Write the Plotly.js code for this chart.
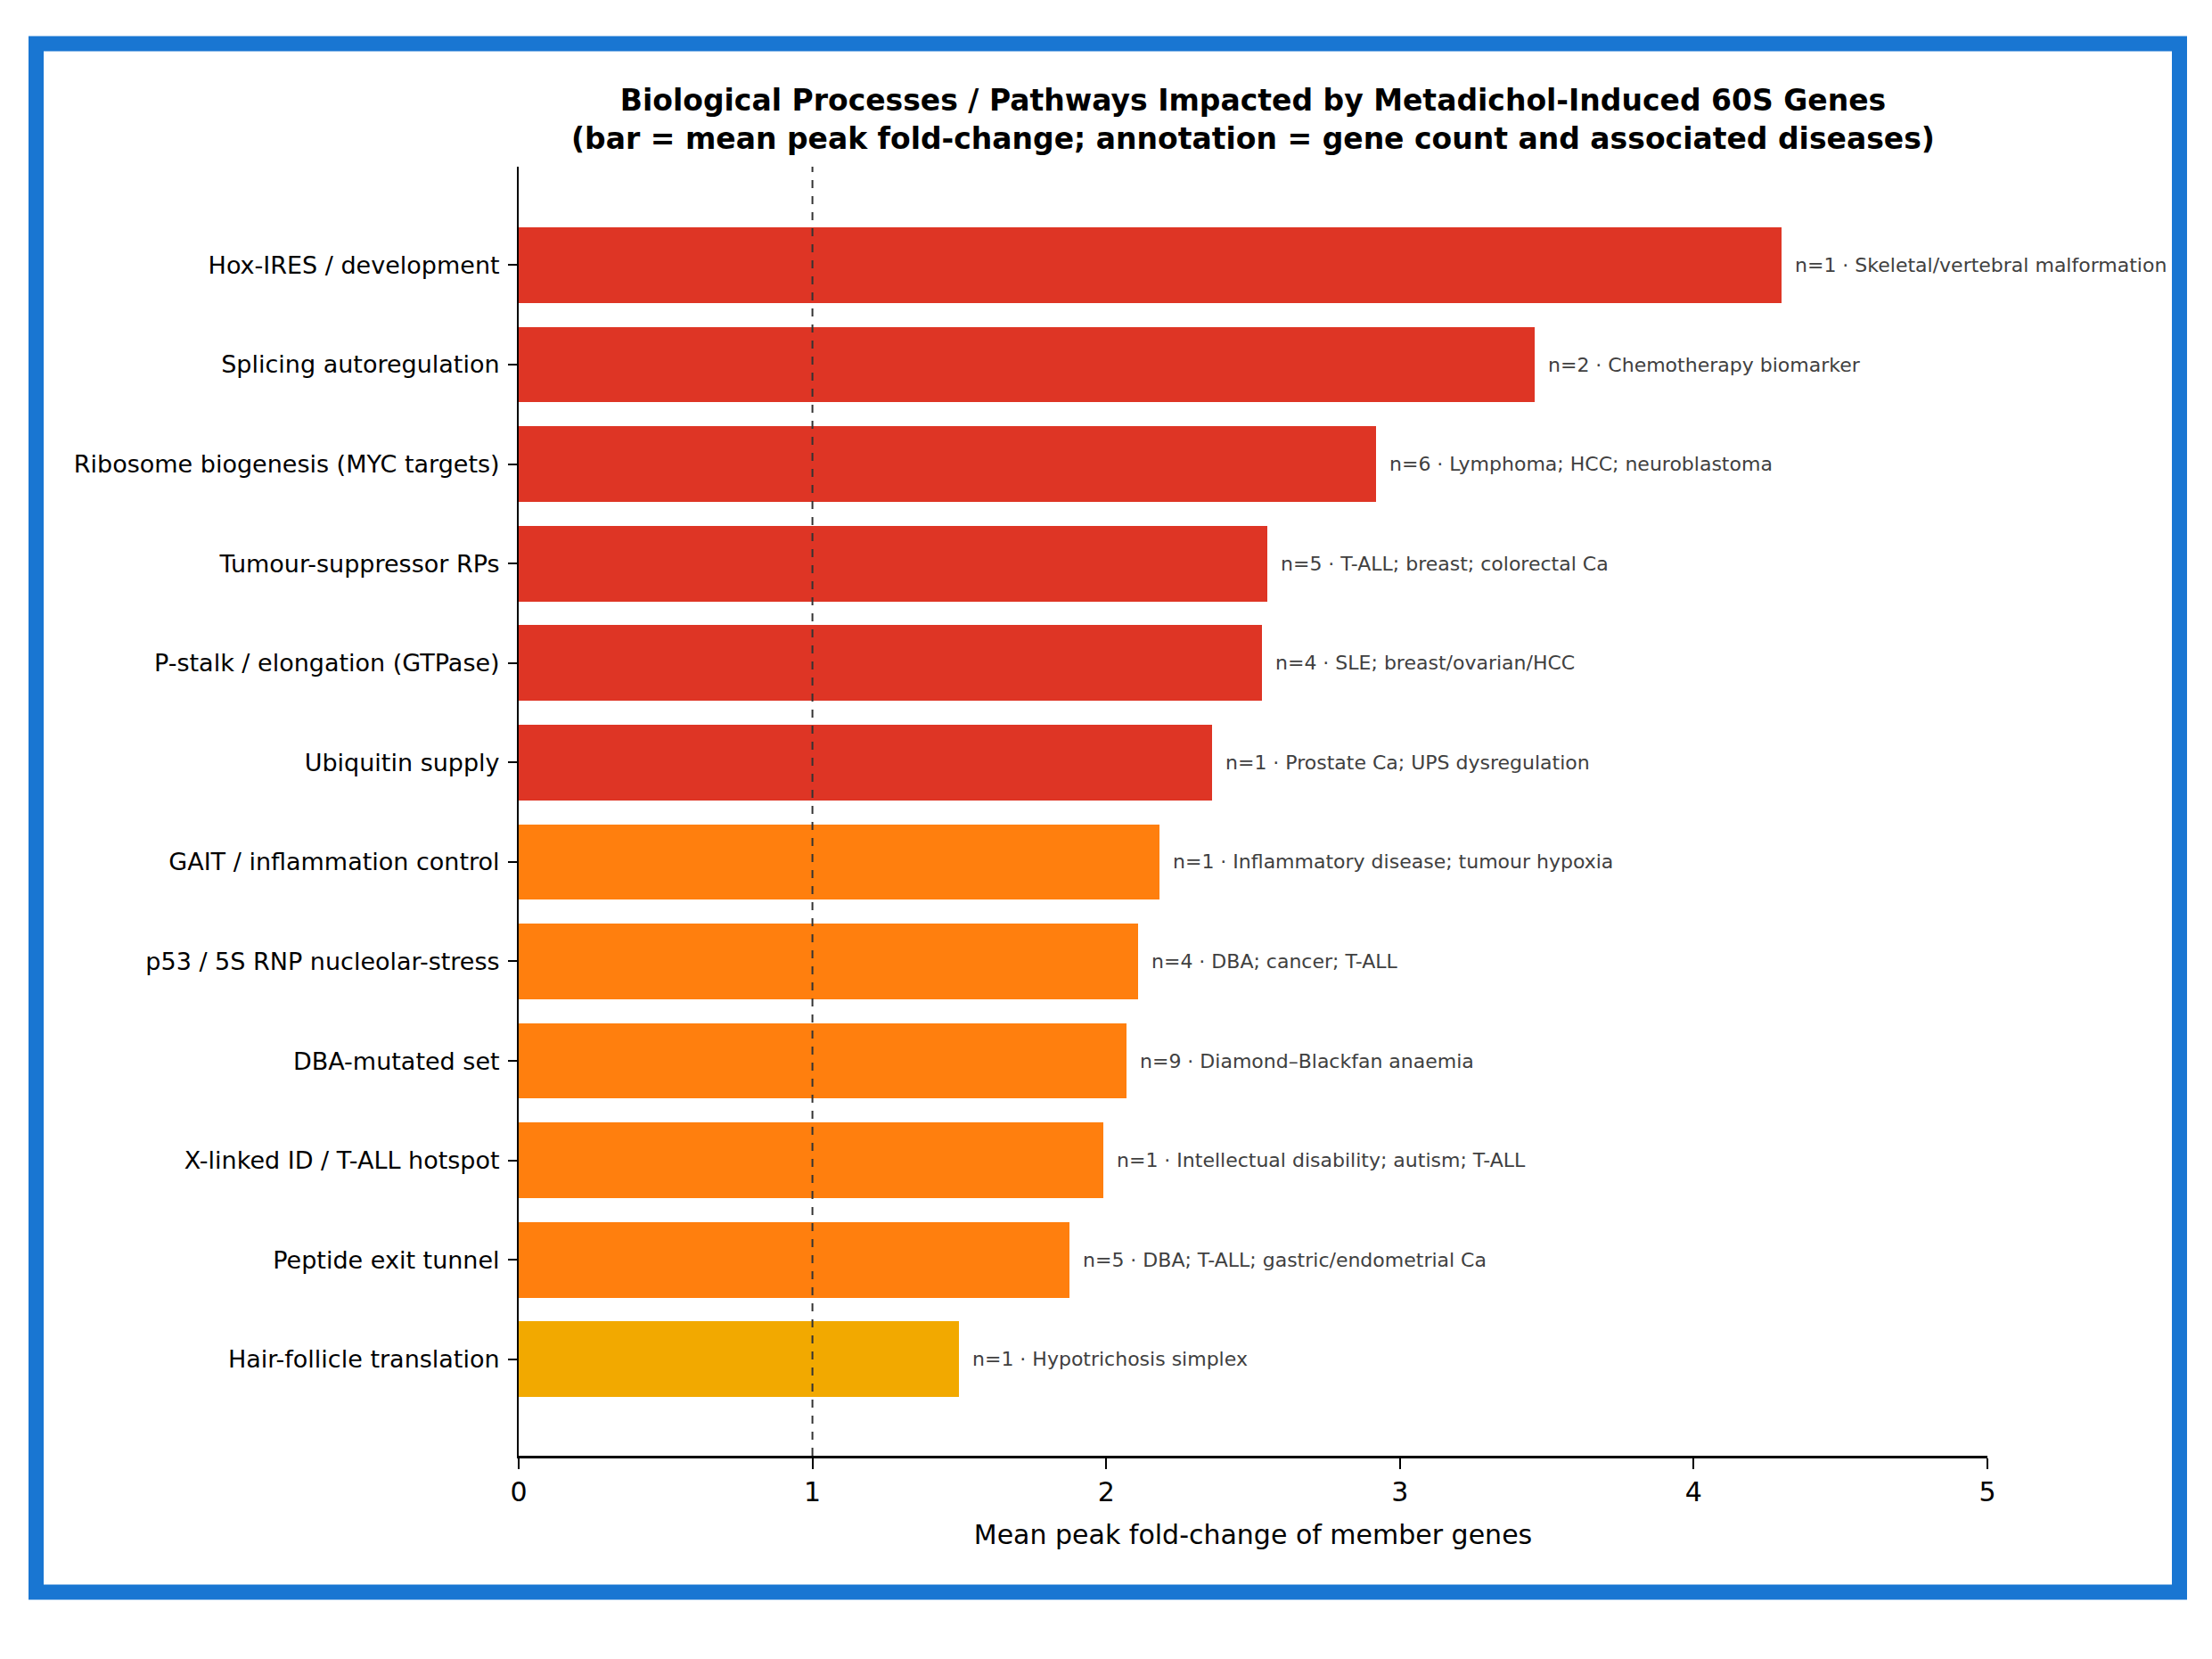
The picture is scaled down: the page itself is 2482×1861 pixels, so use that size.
<!DOCTYPE html>
<html>
<head>
<meta charset="utf-8">
<script src="https://cdn.plot.ly/plotly-3.0.1.min.js"></script>
<style>
  html, body { margin: 0; padding: 0; background: #ffffff; }
  #chart { width: 2482px; height: 1861px; }
</style>
</head>
<body>
<div id="chart"></div>
<script>
// ---- data ----
const categories = [
  "Hox-IRES / development",
  "Splicing autoregulation",
  "Ribosome biogenesis (MYC targets)",
  "Tumour-suppressor RPs",
  "P-stalk / elongation (GTPase)",
  "Ubiquitin supply",
  "GAIT / inflammation control",
  "p53 / 5S RNP nucleolar-stress",
  "DBA-mutated set",
  "X-linked ID / T-ALL hotspot",
  "Peptide exit tunnel",
  "Hair-follicle translation"
];
const meanFoldChange = [4.30, 3.46, 2.92, 2.55, 2.53, 2.36, 2.18, 2.11, 2.07, 1.99, 1.875, 1.50];
const geneCount = [1, 2, 6, 5, 4, 1, 1, 4, 9, 1, 5, 1];
const diseases = [
  "Skeletal/vertebral malformation",
  "Chemotherapy biomarker",
  "Lymphoma; HCC; neuroblastoma",
  "T-ALL; breast; colorectal Ca",
  "SLE; breast/ovarian/HCC",
  "Prostate Ca; UPS dysregulation",
  "Inflammatory disease; tumour hypoxia",
  "DBA; cancer; T-ALL",
  "Diamond\u2013Blackfan anaemia",
  "Intellectual disability; autism; T-ALL",
  "DBA; T-ALL; gastric/endometrial Ca",
  "Hypotrichosis simplex"
];
const xTickValues = [0, 1, 2, 3, 4, 5];
const referenceLine = 1;

// ---- styles ----
const RED = "#de3525", ORANGE = "#ff7f0e", AMBER = "#f2a900";
const barColors = [RED, RED, RED, RED, RED, RED, ORANGE, ORANGE, ORANGE, ORANGE, ORANGE, AMBER];
const FONT = "DejaVu Sans, Liberation Sans, sans-serif";

const trace = {
  type: "bar",
  orientation: "h",
  y: categories,
  x: meanFoldChange,
  width: 0.76,
  marker: { color: barColors, line: { width: 0 } },
  hoverinfo: "skip"
};

const annotations = categories.map((c, i) => ({
  x: meanFoldChange[i], y: c, xref: "x", yref: "y",
  text: "n=" + geneCount[i] + " \u00b7 " + diseases[i],
  showarrow: false, xanchor: "left", yanchor: "middle", xshift: 13,
  font: { family: FONT, size: 22, color: "#404040" }
}));

// frame in paper coords (plot area: x 582..2230, y 187..1633)
const PX = (p) => (p - 582) / 1648;
const PY = (p) => (1633 - p) / 1446;

const layout = {
  width: 2482, height: 1861,
  paper_bgcolor: "#ffffff", plot_bgcolor: "#ffffff",
  margin: { l: 582, r: 252, t: 187, b: 228, pad: 0 },
  font: { family: FONT, color: "#000000" },
  showlegend: false,
  bargap: 0,
  title: {
    text: "<b>Biological Processes / Pathways Impacted by Metadichol-Induced 60S Genes<br>(bar = mean peak fold-change; annotation = gene count and associated diseases)</b>",
    font: { family: FONT, size: 33, color: "#000000" },
    x: 0.5, xref: "paper", xanchor: "center",
    y: 1 - 124 / 1861, yref: "container", yanchor: "middle"
  },
  xaxis: {
    range: [0, 5],
    tickvals: xTickValues,
    ticktext: xTickValues.map(String),
    showgrid: false, zeroline: false,
    showline: true, linecolor: "#000000", linewidth: 2.5,
    ticks: "outside", ticklen: 12, tickwidth: 2, tickcolor: "#000000",
    tickfont: { family: FONT, size: 30, color: "#000000" },
    title: { text: "Mean peak fold-change of member genes", font: { family: FONT, size: 30, color: "#000000" }, standoff: 22 },
    fixedrange: true
  },
  yaxis: {
    type: "category",
    categoryorder: "array", categoryarray: categories,
    range: [11.97, -0.99],
    showgrid: false, zeroline: false,
    showline: true, linecolor: "#000000", linewidth: 2,
    ticks: "outside", ticklen: 10, tickwidth: 2, tickcolor: "#000000",
    tickfont: { family: FONT, size: 27, color: "#000000" },
    ticklabelstandoff: 4,
    fixedrange: true
  },
  shapes: [
    { type: "line", xref: "x", yref: "paper", x0: referenceLine, x1: referenceLine, y0: 0, y1: 1,
      line: { color: "#333333", width: 2, dash: "dash" }, layer: "above" },
    { type: "rect", xref: "paper", yref: "paper",
      x0: PX(40.5), x1: PX(2445.5), y0: PY(1786), y1: PY(49),
      line: { color: "#1976d2", width: 17 }, fillcolor: "rgba(0,0,0,0)", layer: "above" }
  ],
  annotations: annotations
};

Plotly.newPlot("chart", [trace], layout, { displayModeBar: false, staticPlot: true });
</script>
</body>
</html>
